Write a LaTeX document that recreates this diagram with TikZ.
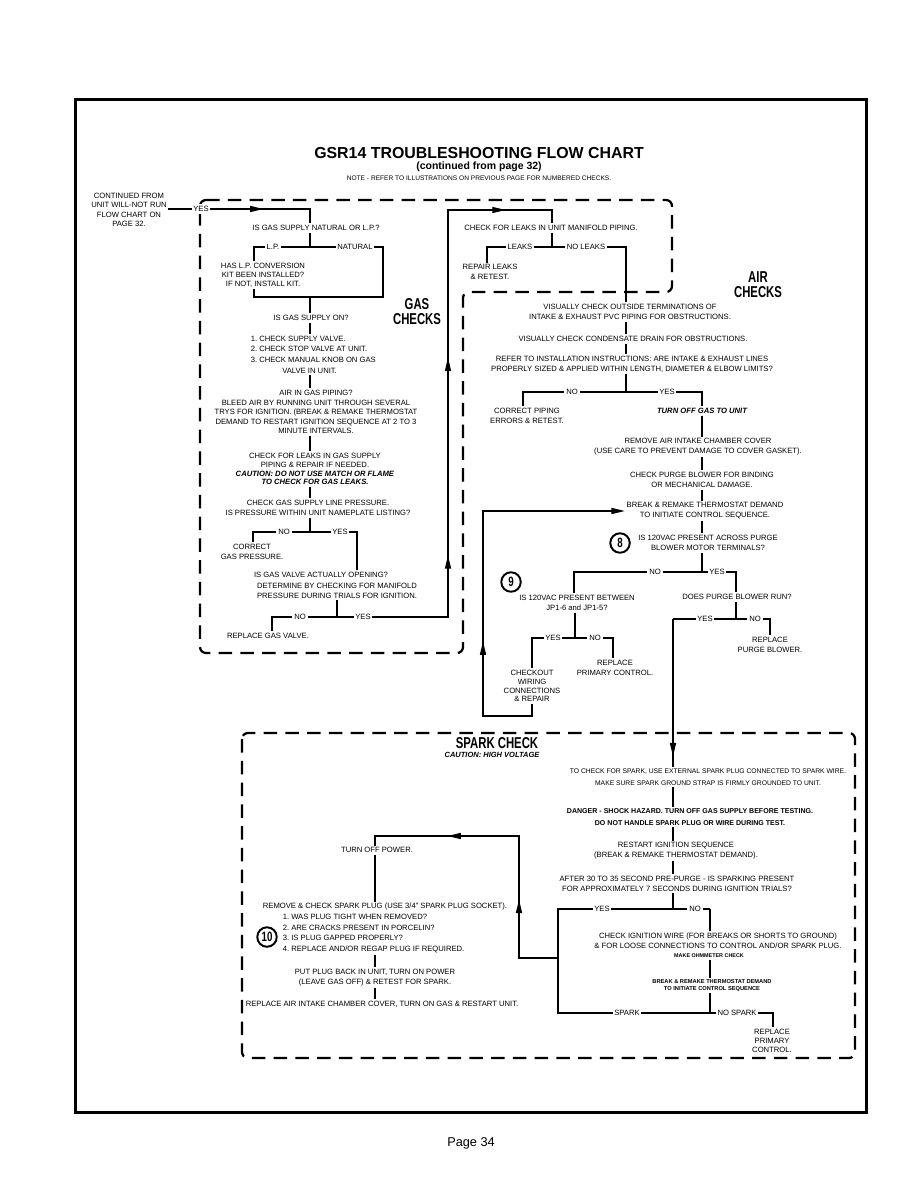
\documentclass[tikz,border=0pt]{standalone}
\usepackage{fontspec}
\setmainfont{Liberation Sans}
\newfontfamily\headfont{Liberation Sans}[FakeStretch=0.72]
\usetikzlibrary{arrows.meta,decorations.markings}

\begin{document}
\begin{tikzpicture}[x=0.6667pt, y=-0.6667pt,
  every node/.style={font=\fontsize{5.1}{6.7}\selectfont},
  txt/.style={align=center, inner sep=1pt},
  lbl/.style={fill=white, inner sep=1.2pt},
  conn/.style={line width=0.9pt},
  zone/.style={line width=1.5pt, dash pattern=on 9pt off 5.5pt, rounded corners=4pt},
  num/.style={draw, circle, line width=1.3pt, minimum size=13pt, inner sep=0pt, font=\headfont\bfseries\fontsize{9}{9}\selectfont},
  hd/.style={align=center, font=\headfont\bfseries\fontsize{10.5}{10}\selectfont},
  arr/.style={postaction={decorate, decoration={markings, mark=at position #1 with {\arrow{Triangle[length=9pt,width=4pt]}}}}},
  >={Triangle[length=9pt,width=4pt]}]
\useasboundingbox (0,0) rectangle (918,1188);
\draw[line width=2pt] (75,100) rectangle (866,1112);

\node[font=\bfseries\fontsize{10.6}{12}\selectfont] (title) at (479,153) {GSR14 TROUBLESHOOTING FLOW CHART};
\node[font=\bfseries\fontsize{7}{8}\selectfont] (sub) at (479,167) {(continued from page 32)};
\node[font=\fontsize{4.4}{5}\selectfont] (note) at (479,178) {NOTE - REFER TO ILLUSTRATIONS ON PREVIOUS PAGE FOR NUMBERED CHECKS.};

\draw[zone] (200,200) -- (672,200) -- (672,292) -- (463,292) -- (463,653) -- (200,653) -- cycle;
\draw[zone] (242,733) rectangle (855,1058);

\node[txt, font=\fontsize{5.1}{6.3}\selectfont] (cont) at (129,210) {CONTINUED FROM\\UNIT WILL-NOT RUN\\FLOW CHART ON\\PAGE 32.};
\node[txt] (natlp) at (316,228) {IS GAS SUPPLY NATURAL OR L.P.?};
\node[txt, font=\fontsize{5.1}{6.1}\selectfont] (lpkit) at (263,275) {HAS L.P. CONVERSION\\KIT BEEN INSTALLED?\\IF NOT, INSTALL KIT.};
\node[txt] (gason) at (311,318) {IS GAS SUPPLY ON?};
\node[txt, align=left, anchor=north west, font=\fontsize{5.1}{7.1}\selectfont] (gaslist) at (249,334) {1.\ CHECK SUPPLY VALVE.\\2.\ CHECK STOP VALVE AT UNIT.\\3.\ CHECK MANUAL KNOB ON GAS\\\hspace*{21pt}VALVE IN UNIT.};
\node[txt, font=\fontsize{5.1}{6.35}\selectfont] (airpipe) at (316,412) {AIR IN GAS PIPING?\\BLEED AIR BY RUNNING UNIT THROUGH SEVERAL\\TRYS FOR IGNITION. (BREAK \& REMAKE THERMOSTAT\\DEMAND TO RESTART IGNITION SEQUENCE AT 2 TO 3\\MINUTE INTERVALS.};
\node[txt, font=\fontsize{5.1}{5.9}\selectfont] (leaksup) at (315,469) {CHECK FOR LEAKS IN GAS SUPPLY\\PIPING \& REPAIR IF NEEDED.\\\textbf{\textit{CAUTION: DO NOT USE MATCH OR FLAME}}\\\textbf{\textit{TO CHECK FOR GAS LEAKS.}}};
\node[txt] (press) at (318,508) {CHECK GAS SUPPLY LINE PRESSURE.\\IS PRESSURE WITHIN UNIT NAMEPLATE LISTING?};
\node[txt] (corrp) at (252,552) {CORRECT\\GAS PRESSURE.};
\node[txt] (valve) at (321,575) {IS GAS VALVE ACTUALLY OPENING?};
\node[txt] (valvedet) at (337,590.5) {DETERMINE BY CHECKING FOR MANIFOLD\\PRESSURE DURING TRIALS FOR IGNITION.};
\node[txt] (repvalve) at (268,636) {REPLACE GAS VALVE.};
\node[hd] (gashd) at (417,312) {GAS\\CHECKS};

\coordinate (gcol) at (310,0);
\coordinate (yes0) at (310,209);
\coordinate (b1) at (310,247);
\coordinate (b1l) at (254,247);
\coordinate (b1r) at (383,247);
\coordinate (b2) at (310,297);
\coordinate (b2l) at (254,297);
\coordinate (b2r) at (383,297);
\coordinate (b5) at (310,532);
\coordinate (b5l) at (253,532);
\coordinate (b5r) at (357,532);
\coordinate (b6) at (337,617);
\coordinate (b6l) at (272,617);
\coordinate (b6r) at (448,617);
\coordinate (g1) at (448,210);
\coordinate (g2) at (552,210);

\node[txt] (manif) at (551,228) {CHECK FOR LEAKS IN UNIT MANIFOLD PIPING.};
\node[txt, font=\fontsize{5.1}{6.2}\selectfont] (repleak) at (490,272) {REPAIR LEAKS\\\& RETEST.};
\node[hd] (airhd) at (758,285) {AIR\\CHECKS};
\node[txt] (vterm) at (630,312) {VISUALLY CHECK OUTSIDE TERMINATIONS OF\\INTAKE \& EXHAUST PVC PIPING FOR OBSTRUCTIONS.};
\node[txt] (vdrain) at (633,339) {VISUALLY CHECK CONDENSATE DRAIN FOR OBSTRUCTIONS.};
\node[txt] (vlines) at (632,364) {REFER TO INSTALLATION INSTRUCTIONS: ARE INTAKE \& EXHAUST LINES\\PROPERLY SIZED \& APPLIED WITHIN LENGTH, DIAMETER \& ELBOW LIMITS?};
\node[txt] (corrpipe) at (527,416) {CORRECT PIPING\\ERRORS \& RETEST.};
\node[txt, font=\bfseries\itshape\fontsize{5.1}{6.7}\selectfont] (gasoff) at (702,411) {TURN OFF GAS TO UNIT};
\node[txt] (cover) at (698,447) {REMOVE AIR INTAKE CHAMBER COVER\\(USE CARE TO PREVENT DAMAGE TO COVER GASKET).};
\node[txt] (binding) at (702,480) {CHECK PURGE BLOWER FOR BINDING\\OR MECHANICAL DAMAGE.};
\node[txt] (remake) at (705,511) {BREAK \& REMAKE THERMOSTAT DEMAND\\TO INITIATE CONTROL SEQUENCE.};
\node[num] (n8) at (620,543) {8};
\node[txt] (vac8) at (708,543) {IS 120VAC PRESENT ACROSS PURGE\\BLOWER MOTOR TERMINALS?};
\node[num] (n9) at (511,582) {9};
\node[txt] (vac9) at (577,603) {IS 120VAC PRESENT BETWEEN\\JP1-6 and JP1-5?};
\node[txt] (blower) at (737,597) {DOES PURGE BLOWER RUN?};
\node[txt] (repblower) at (770,645) {REPLACE\\PURGE BLOWER.};
\node[txt] (repprim) at (615,668) {REPLACE\\PRIMARY CONTROL.};
\node[txt, font=\fontsize{5.1}{5.9}\selectfont] (wiring) at (532,686) {CHECKOUT\\WIRING\\CONNECTIONS\\\& REPAIR};

\coordinate (acol) at (626,0);
\coordinate (bcol) at (702,0);
\coordinate (b7) at (552,247);
\coordinate (b7l) at (487,247);
\coordinate (b7r) at (626,247);
\coordinate (b8) at (626,392);
\coordinate (b8l) at (523,392);
\coordinate (b8r) at (702,392);
\coordinate (b9) at (702,572);
\coordinate (b9l) at (574,572);
\coordinate (b9r) at (736,572);
\coordinate (b10) at (736,619);
\coordinate (b10l) at (673,619);
\coordinate (b10r) at (770,619);
\coordinate (b11) at (575,638);
\coordinate (b11l) at (532,638);
\coordinate (b11r) at (613,638);
\coordinate (w1) at (532,716);
\coordinate (w2) at (483,716);
\coordinate (w3) at (483,511);

\node[hd] (sparkhd) at (497,743) {SPARK CHECK};
\node[font=\bfseries\itshape\fontsize{5}{6}\selectfont] (caution) at (492,755) {CAUTION: HIGH VOLTAGE};
\node[txt, font=\fontsize{4.5}{8}\selectfont] (extplug) at (708,777) {TO CHECK FOR SPARK, USE EXTERNAL SPARK PLUG CONNECTED TO SPARK WIRE.\\MAKE SURE SPARK GROUND STRAP IS FIRMLY GROUNDED TO UNIT.};
\node[txt, font=\bfseries\fontsize{4.7}{8}\selectfont] (danger) at (690,817) {DANGER - SHOCK HAZARD. TURN OFF GAS SUPPLY BEFORE TESTING.\\DO NOT HANDLE SPARK PLUG OR WIRE DURING TEST.};
\node[txt] (restart) at (676,851) {RESTART IGNITION SEQUENCE\\(BREAK \& REMAKE THERMOSTAT DEMAND).};
\node[txt] (prepurge) at (677,883.5) {AFTER 30 TO 35 SECOND PRE-PURGE - IS SPARKING PRESENT\\FOR APPROXIMATELY 7 SECONDS DURING IGNITION TRIALS?};
\node[txt] (ignwire) at (718,941) {CHECK IGNITION WIRE (FOR BREAKS OR SHORTS TO GROUND)\\\& FOR LOOSE CONNECTIONS TO CONTROL AND/OR SPARK PLUG.};
\node[txt, font=\bfseries\fontsize{3.6}{4.5}\selectfont] (ohm) at (709,956) {MAKE OHMMETER CHECK};
\node[txt, font=\bfseries\fontsize{3.8}{4.8}\selectfont] (remake2) at (712,985.5) {BREAK \& REMAKE THERMOSTAT DEMAND\\TO INITIATE CONTROL SEQUENCE};
\node[txt, font=\fontsize{5.1}{6.1}\selectfont] (repprim2) at (772,1041) {REPLACE\\PRIMARY\\CONTROL.};
\node[txt] (poweroff) at (377,850) {TURN OFF POWER.};
\node[txt] (plug) at (385,907) {REMOVE \& CHECK SPARK PLUG (USE 3/4'' SPARK PLUG SOCKET).};
\node[txt, align=left, anchor=north west, font=\fontsize{5.1}{7.1}\selectfont] (plugsteps) at (281,912.5) {1.\ WAS PLUG TIGHT WHEN REMOVED?\\2.\ ARE CRACKS PRESENT IN PORCELIN?\\3.\ IS PLUG GAPPED PROPERLY?\\4.\ REPLACE AND/OR REGAP PLUG IF REQUIRED.};
\node[num] (n10) at (267,937) {10};
\node[txt] (plugback) at (375,977.5) {PUT PLUG BACK IN UNIT, TURN ON POWER\\(LEAVE GAS OFF) \& RETEST FOR SPARK.};
\node[txt, anchor=west] (replcover) at (244,1004) {REPLACE AIR INTAKE CHAMBER COVER, TURN ON GAS \& RESTART UNIT.};

\coordinate (scol) at (673,0);
\coordinate (b12) at (673,909);
\coordinate (b12l) at (558,909);
\coordinate (b12r) at (710,909);
\coordinate (b13) at (710,1013);
\coordinate (b13l) at (558,1013);
\coordinate (b13r) at (773,1013);
\coordinate (j1) at (558,958);
\coordinate (j2) at (519,958);
\coordinate (j3) at (519,836);
\coordinate (j4) at (375,836);

\draw[conn, arr=0.61] (cont.east |- yes0) -- (yes0) -- (natlp.north -| yes0);
\draw[conn] (natlp.south -| b1) -- (b1);
\draw[conn] (lpkit.north -| b1l) -- (b1l) -- (b1r) -- (b2r) -- (b2l) -- (lpkit.south -| b1l);
\draw[conn] (b2) -- (gason.north -| b2);
\draw[conn] (gason.south -| gcol) -- (gaslist.north -| gcol);
\draw[conn] (gaslist.south -| gcol) -- (airpipe.north -| gcol);
\draw[conn] (airpipe.south -| gcol) -- (leaksup.north -| gcol);
\draw[conn] (leaksup.south -| gcol) -- (press.north -| gcol);
\draw[conn] (press.south -| b5) -- (b5);
\draw[conn] (corrp.north -| b5l) -- (b5l) -- (b5r) -- (valve.north -| b5r);
\draw[conn] (valvedet.south -| b6) -- (b6);
\draw[conn] (repvalve.north -| b6l) -- (b6l) -- (b6);
\draw[conn, arr=0.272, arr=0.583, arr=0.906] (b6) -- (b6r) -- (g1) -- (g2) -- (manif.north -| g2);

\draw[conn] (manif.south -| b7) -- (b7);
\draw[conn] (repleak.north -| b7l) -- (b7l) -- (b7r) -- (vterm.north -| b7r);
\draw[conn] (vterm.south -| acol) -- (vdrain.north -| acol);
\draw[conn] (vdrain.south -| acol) -- (vlines.north -| acol);
\draw[conn] (vlines.south -| b8) -- (b8);
\draw[conn] (corrpipe.north -| b8l) -- (b8l) -- (b8r) -- (gasoff.north -| b8r);
\draw[conn] (gasoff.south -| bcol) -- (cover.north -| bcol);
\draw[conn] (cover.south -| bcol) -- (binding.north -| bcol);
\draw[conn] (binding.south -| bcol) -- (remake.north -| bcol);
\draw[conn] (remake.south -| bcol) -- (vac8.north -| bcol);
\draw[conn] (vac8.south -| b9) -- (b9);
\draw[conn] (vac9.north -| b9l) -- (b9l) -- (b9r) -- (blower.north -| b9r);
\draw[conn] (blower.south -| b10) -- (b10);
\draw[conn] (b10l) -- (b10r) -- (repblower.north -| b10r);
\draw[conn, arr=0.93] (b10l) -- (extplug.north -| b10l);
\draw[conn] (vac9.south -| b11) -- (b11);
\draw[conn] (wiring.north -| b11l) -- (b11l) -- (b11r) -- (repprim.north -| b11r);
\draw[conn, arr=0.333, ->] (wiring.south -| w1) -- (w1) -- (w2) -- (w3) -- (remake.west |- w3);

\draw[conn] (extplug.south -| scol) -- (danger.north -| scol);
\draw[conn] (danger.south -| scol) -- (restart.north -| scol);
\draw[conn] (restart.south -| scol) -- (prepurge.north -| scol);
\draw[conn] (prepurge.south -| b12) -- (b12);
\draw[conn] (b12r) -- (ignwire.north -| b12r);
\draw[conn] (b12r) -- (b12l) -- (b13l) -- (b13r) -- (repprim2.north -| b13r);
\draw[conn] (ohm.south -| b13) -- (remake2.north -| b13);
\draw[conn] (remake2.south -| b13) -- (b13);
\draw[conn, arr=0.31, arr=0.74] (j1) -- (j2) -- (j3) -- (j4) -- (poweroff.north -| j4);
\draw[conn] (poweroff.south -| j4) -- (plug.north -| j4);
\draw[conn] (plugsteps.south -| j4) -- (plugback.north -| j4);
\draw[conn] (plugback.south -| j4) -- (replcover.north -| j4);

\node[lbl] (yes1) at (201,209) {YES};
\node[lbl] (lplbl) at (273,247) {L.P.};
\node[lbl] (natlbl) at (355,247) {NATURAL};
\node[lbl] (no5) at (284,532) {NO};
\node[lbl] (yes5) at (340,532) {YES};
\node[lbl] (no6) at (300,617) {NO};
\node[lbl] (yes6) at (363,617) {YES};
\node[lbl] (leakslbl) at (520,247) {LEAKS};
\node[lbl] (noleaks) at (586,247) {NO LEAKS};
\node[lbl] (no8) at (572,392) {NO};
\node[lbl] (yes8) at (667,392) {YES};
\node[lbl] (no9) at (655,572) {NO};
\node[lbl] (yes9) at (717,572) {YES};
\node[lbl] (yes10) at (705,619) {YES};
\node[lbl] (no10) at (755,619) {NO};
\node[lbl] (yes11) at (553,638) {YES};
\node[lbl] (no11) at (595,638) {NO};
\node[lbl] (yes12) at (602,909) {YES};
\node[lbl] (no12) at (695,909) {NO};
\node[lbl] (sparklbl) at (627,1013) {SPARK};
\node[lbl] (nospark) at (737,1013) {NO SPARK};

\node[font=\fontsize{8.5}{10}\selectfont] (page) at (471,1143) {Page 34};
\end{tikzpicture}
\end{document}
